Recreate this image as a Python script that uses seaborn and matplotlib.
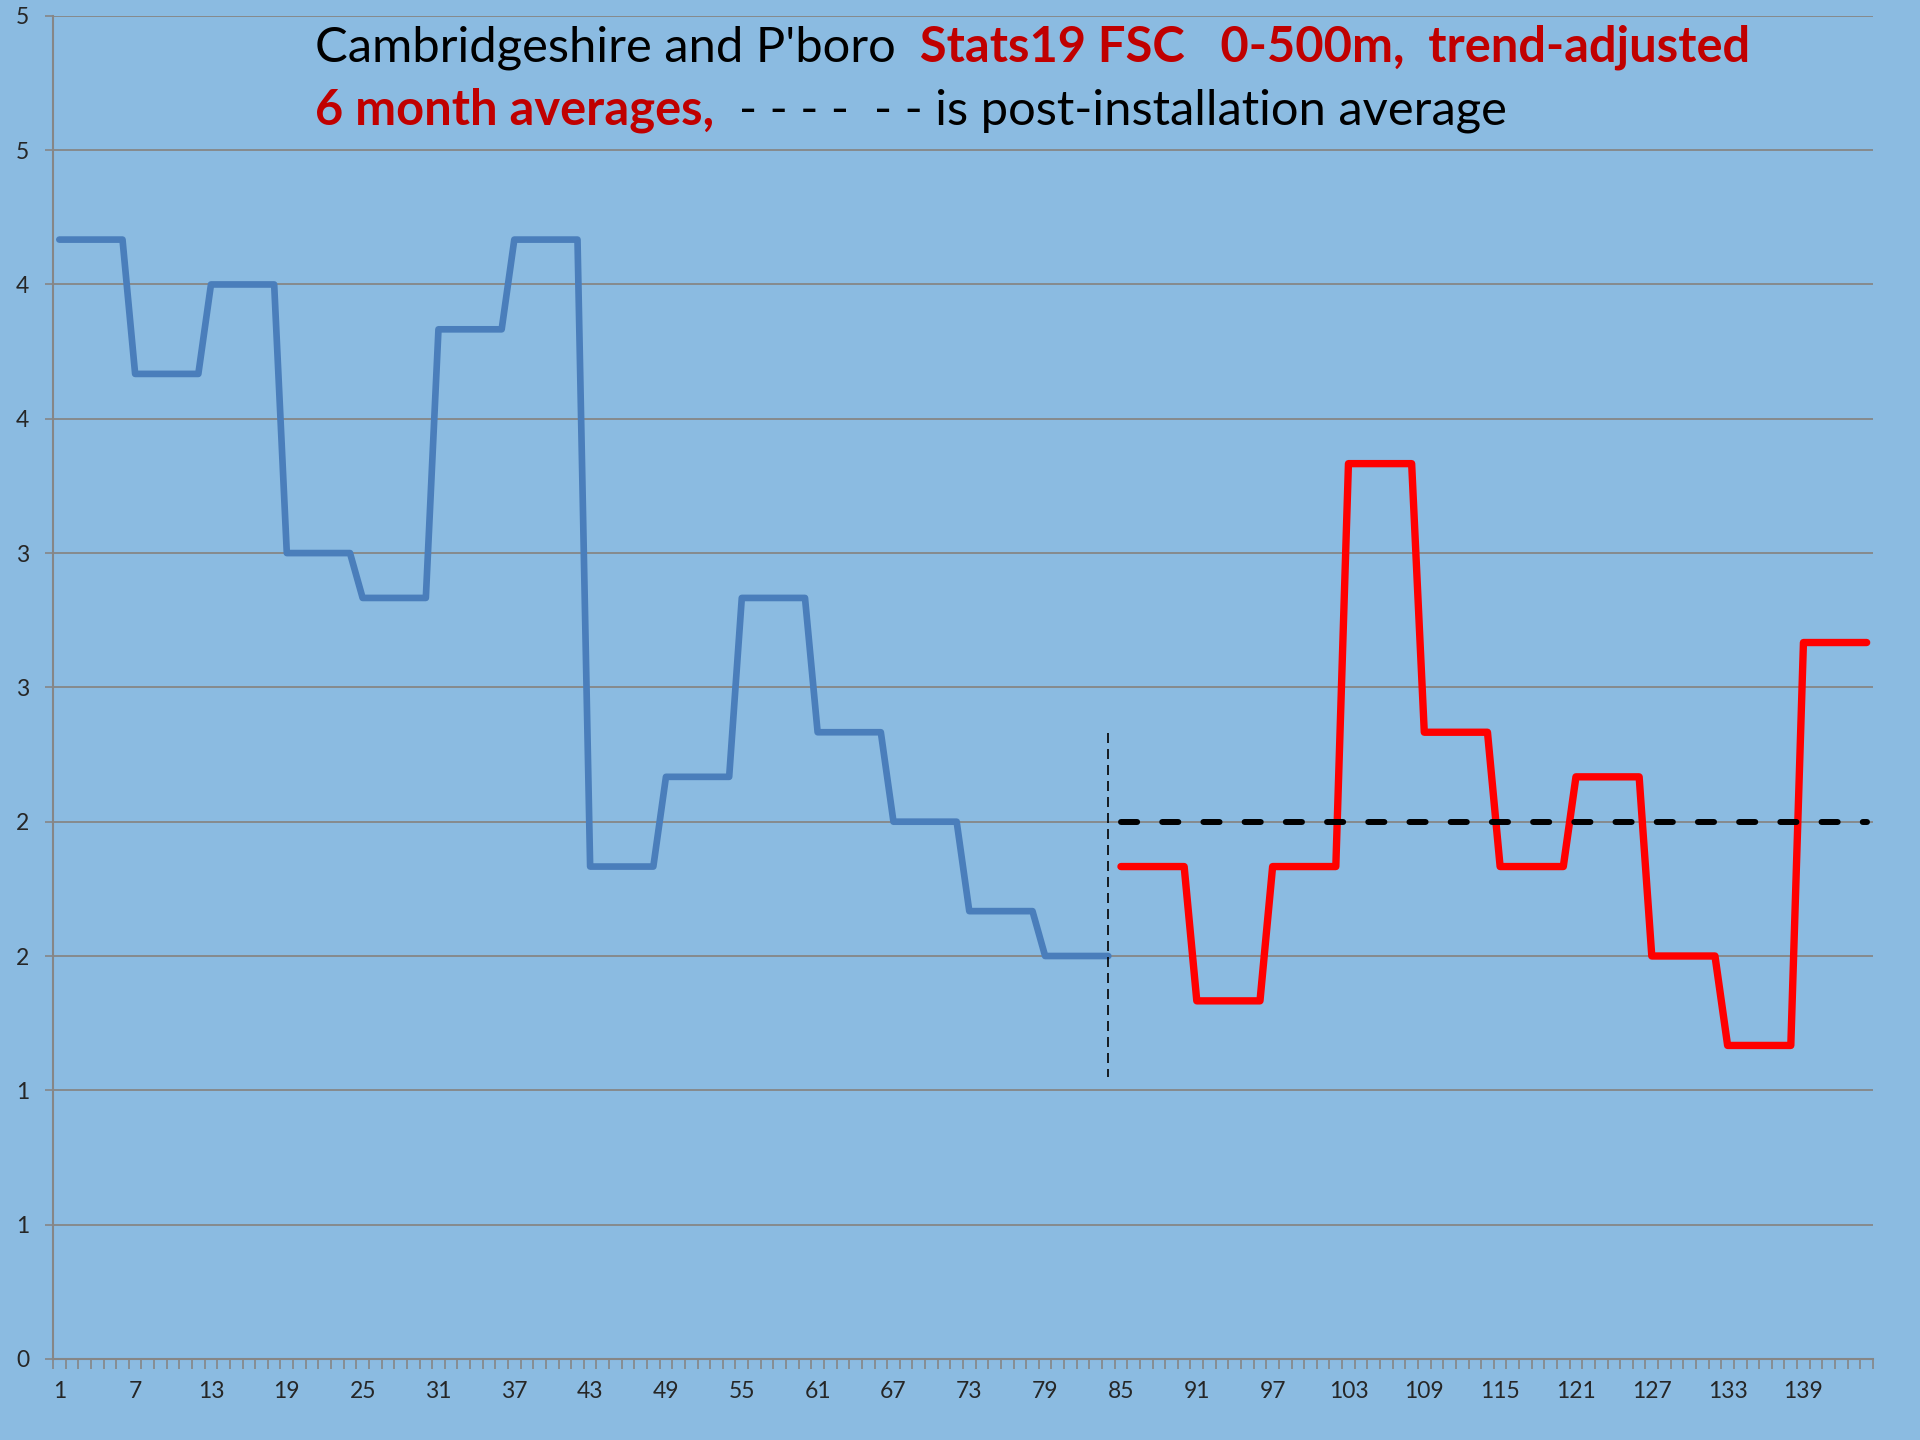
import numpy as np
import pandas as pd
import matplotlib
matplotlib.use('Agg')
import matplotlib.pyplot as plt
import seaborn as sns

# 6 month averages (each value holds for a block of 6 months)
block_len = 6
pre_block_means = [4.167, 3.667, 4.0, 3.0, 2.833, 3.833, 4.167,
                   1.833, 2.167, 2.833, 2.333, 2.0, 1.667, 1.5]
post_block_means = [1.833, 1.333, 1.833, 3.333, 2.333,
                    1.833, 2.167, 1.5, 1.167, 2.667]
post_average = 2.0
install_month = 84
install_marker_y = [2.33, 1.05]

y_ticks = [0, 0.5, 1, 1.5, 2, 2.5, 3, 3.5, 4, 4.5, 5]
y_tick_labels = ['0', '1', '1', '2', '2', '3', '3', '4', '4', '5', '5']
x_label_months = list(range(1, 144, 6))

bg = '#8BBBE1'
grid_col = '#868686'
blue = '#4A7EBB'
red = '#FF0000'
title_red = '#C00000'

pre = pd.DataFrame({
    'month': np.arange(1, len(pre_block_means) * block_len + 1),
    'value': np.repeat(pre_block_means, block_len),
})
post_start = len(pre) + 1
post = pd.DataFrame({
    'month': np.arange(post_start, post_start + len(post_block_means) * block_len),
    'value': np.repeat(post_block_means, block_len),
})
n_months = post['month'].max()
avg = pd.DataFrame({'month': [post_start, n_months],
                    'value': [post_average, post_average]})
marker = pd.DataFrame({'month': [install_month, install_month],
                       'value': install_marker_y})

sns.set_style('white')
plt.rcParams['font.family'] = ['Lato', 'DejaVu Sans']

fig = plt.figure(figsize=(19.2, 14.4), dpi=100, facecolor=bg)
ax = fig.add_axes([0.0276, 0.0563, 0.9479, 0.9327])
ax.set_facecolor(bg)

sns.lineplot(data=pre, x='month', y='value', ax=ax, color=blue, lw=4.8,
             solid_joinstyle='round', solid_capstyle='round', zorder=3)
sns.lineplot(data=post, x='month', y='value', ax=ax, color=red, lw=5.3,
             solid_joinstyle='round', solid_capstyle='round', zorder=3)
ax.plot(avg['month'], avg['value'], color='black', lw=4.3,
        dashes=(2.7, 4.2), dash_capstyle='round', zorder=4)
ax.plot(marker['month'], marker['value'], color='black', lw=1.2,
        dashes=(6, 3.6), zorder=4)

ax.set_xlim(0.5, n_months + 0.5)
ax.set_ylim(0, 5)
ax.set_yticks(y_ticks)
ax.set_yticklabels(y_tick_labels)
ax.set_xticks(x_label_months)
ax.set_xticklabels([str(m) for m in x_label_months])
ax.set_xticks(np.arange(0.5, n_months + 1, 1), minor=True)
ax.tick_params(axis='x', which='major', length=0, pad=16, labelsize=16.5)
ax.tick_params(axis='x', which='minor', length=7, width=1.2, color=grid_col,
               direction='out', bottom=True)
ax.tick_params(axis='y', which='major', length=6, width=1.2, color=grid_col,
               pad=11, labelsize=16.5, left=True)
ax.set_xlabel('')
ax.set_ylabel('')

ax.grid(True, axis='y', color=grid_col, lw=1.3)
ax.grid(False, axis='x')
ax.set_axisbelow(True)
for side in ['top', 'right']:
    ax.spines[side].set_visible(False)
for side in ['left', 'bottom']:
    ax.spines[side].set_color(grid_col)
    ax.spines[side].set_linewidth(1.5)

# two-line title with mixed colours
fs = 35.2
t1 = fig.text(0.164, 0.9576, "Cambridgeshire and P'boro", fontsize=fs,
              color='black', va='baseline')
ax.annotate("  Stats19 FSC   0-500m,  trend-adjusted", xy=(1, 0),
            xycoords=t1, va='bottom', fontsize=fs, color=title_red,
            fontweight='bold', annotation_clip=False)
t2 = fig.text(0.164, 0.9138, "6 month averages,", fontsize=fs,
              color=title_red, fontweight='bold', va='baseline')
ax.annotate("  - - - -  - - is post-installation average", xy=(1, 0),
            xycoords=t2, va='bottom', fontsize=fs, color='black',
            annotation_clip=False)

fig.savefig('out.png', dpi=100, facecolor=bg)
